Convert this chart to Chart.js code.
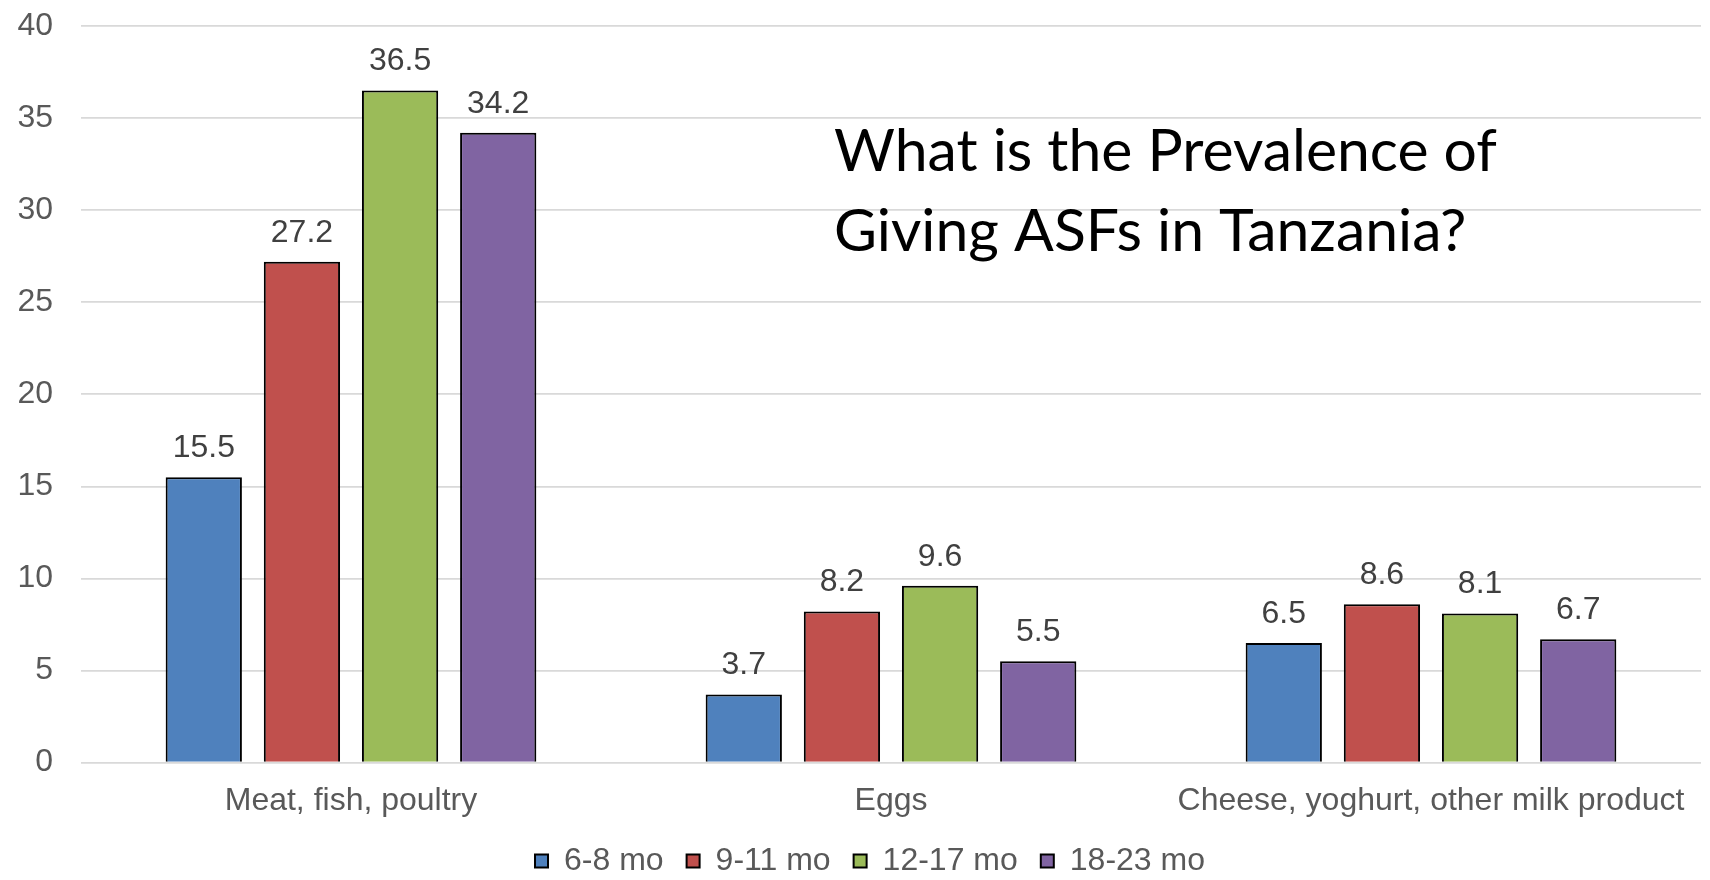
<!DOCTYPE html>
<html>
<head>
<meta charset="utf-8">
<script src="https://cdn.jsdelivr.net/npm/chart.js@4.4.1/dist/chart.umd.min.js"></script>
<style>
  html, body { margin: 0; padding: 0; background: #ffffff; }
  #wrap { width: 1710px; height: 880px; }
</style>
</head>
<body>
<div id="wrap"><canvas id="chart" width="1710" height="880"></canvas></div>
<script>
// Food groups on the x axis
const categories = ['Meat, fish, poultry', 'Eggs', 'Cheese, yoghurt, other milk product'];

// Age groups (one series each), % of children given the food
const ageGroups = ['6-8 mo', '9-11 mo', '12-17 mo', '18-23 mo'];
const age6to8   = [15.5, 3.7, 6.5];
const age9to11  = [27.2, 8.2, 8.6];
const age12to17 = [36.5, 9.6, 8.1];
const age18to23 = [34.2, 5.5, 6.7];

// Value axis
const yMin = 0;
const yMax = 40;
const yStep = 5;

const titleLines = ['What is the Prevalence of', 'Giving ASFs in Tanzania?'];

const seriesValues = [age6to8, age9to11, age12to17, age18to23];
const seriesColors = ['#4F81BD', '#C0504D', '#9BBB59', '#8064A2'];

const BASE_FONT = '"Liberation Sans", Arial, sans-serif';

// Value written above each bar
const barValueLabels = {
  id: 'barValueLabels',
  afterDatasetsDraw(chart) {
    const ctx = chart.ctx;
    ctx.save();
    ctx.font = '32px ' + BASE_FONT;
    ctx.fillStyle = '#404040';
    ctx.textAlign = 'center';
    ctx.textBaseline = 'middle';
    chart.data.datasets.forEach((ds, i) => {
      const meta = chart.getDatasetMeta(i);
      meta.data.forEach((bar, j) => {
        ctx.fillText(ds.data[j].toFixed(1), bar.x, bar.y - 29);
      });
    });
    ctx.restore();
  }
};

// Nudge the legend row so it sits centred under the plot
const legendShift = {
  id: 'legendShift',
  afterLayout(chart) {
    const lg = chart.legend;
    if (!lg) return;
    lg.left += 12;
    lg.right += 12;
  }
};

// Two-line headline inside the plot area
const headline = {
  id: 'headline',
  afterDraw(chart) {
    const ctx = chart.ctx;
    ctx.save();
    ctx.font = '59px Lato, "Open Sans", sans-serif';
    ctx.fillStyle = '#000000';
    ctx.textAlign = 'left';
    ctx.textBaseline = 'alphabetic';
    const w = ctx.measureText(titleLines[0]).width;
    const sx = 663 / w;
    ctx.translate(834, 0);
    ctx.scale(sx, 1);
    ctx.fillText(titleLines[0], 0, 171);
    ctx.fillText(titleLines[1], 0, 251);
    ctx.restore();
  }
};

new Chart(document.getElementById('chart'), {
  type: 'bar',
  data: {
    labels: categories,
    datasets: ageGroups.map((name, i) => ({
      label: name,
      data: seriesValues[i],
      backgroundColor: seriesColors[i],
      borderColor: '#000000',
      borderWidth: 2,
      categoryPercentage: 0.727,
      barPercentage: 0.777
    }))
  },
  options: {
    responsive: false,
    devicePixelRatio: 1,
    animation: false,
    layout: { padding: { top: 26, left: 15, right: 9, bottom: -7 } },
    plugins: {
      title: { display: false },
      tooltip: { enabled: false },
      legend: {
        display: true,
        position: 'bottom',
        labels: {
          boxWidth: 13,
          boxHeight: 13,
          padding: 23,
          color: '#595959',
          font: { family: BASE_FONT, size: 32 }
        }
      }
    },
    scales: {
      x: {
        grid: { display: false, drawTicks: false },
        border: { display: false },
        ticks: {
          color: '#595959',
          padding: 19,
          maxRotation: 0,
          autoSkip: false,
          font: { family: BASE_FONT, size: 32 }
        },
        afterFit(scale) { scale.height -= 17; }
      },
      y: {
        min: yMin,
        max: yMax,
        grid: { color: '#d9d9d9', lineWidth: 1.7, drawTicks: false },
        border: { display: false },
        ticks: {
          stepSize: yStep,
          color: '#595959',
          padding: 28,
          font: { family: BASE_FONT, size: 32 }
        },
        afterFit(scale) {
          scale.width = 66;
          scale.paddingTop = 0;
        }
      }
    }
  },
  plugins: [barValueLabels, legendShift, headline]
});
</script>
</body>
</html>
